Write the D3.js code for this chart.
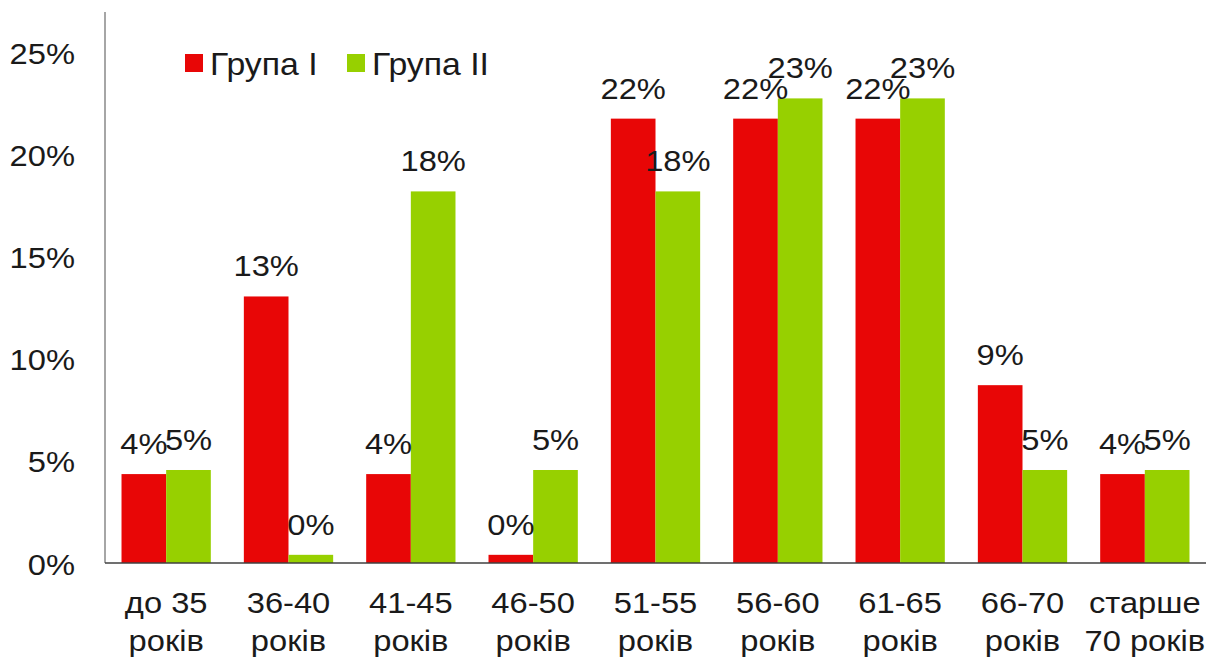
<!DOCTYPE html>
<html>
<head>
<meta charset="utf-8">
<script src="https://cdn.jsdelivr.net/npm/d3@7"></script>
<style>
  html, body { margin: 0; padding: 0; background: #fff; }
  svg { display: block; font-family: "Liberation Sans", Arial, sans-serif; }
</style>
</head>
<body>
<svg id="chart" width="1206" height="657"></svg>
<script>
// Age groups (two-line labels)
const categories = [
  ["до 35", "років"],
  ["36-40", "років"],
  ["41-45", "років"],
  ["46-50", "років"],
  ["51-55", "років"],
  ["56-60", "років"],
  ["61-65", "років"],
  ["66-70", "років"],
  ["старше", "70 років"]
];
const seriesNames = ["Група I", "Група II"];
const group1 = [0.0435, 0.1304, 0.0435, 0.004, 0.2174, 0.2174, 0.2174, 0.0870, 0.0435];
const group2 = [0.0455, 0.004, 0.1818, 0.0455, 0.1818, 0.2273, 0.2273, 0.0455, 0.0455];
const colors = ["#e80606", "#97d000"];
const yTicks = [0, 0.05, 0.10, 0.15, 0.20, 0.25];

const svg = d3.select("#chart");
const margin = { left: 105, right: 0, top: 12, bottom: 94 };
const W = 1206, H = 657;
const plotBottom = H - margin.bottom; // 563
const SX = 1.09;       // horizontal stretch of the text glyphs
const FS = 30;         // base font size
const ink = "#1a1a1a";

const x = d3.scaleBand()
  .domain(d3.range(categories.length))
  .range([margin.left, W - margin.right])
  .paddingInner(0.27)
  .paddingOuter(0.135);
const xs = d3.scaleBand().domain([0, 1]).range([0, x.bandwidth()]);
const y = d3.scaleLinear().domain([0, 0.25]).range([plotBottom, 52]);

const fmt = d3.format(".0%");

// Place text at (px, py) with a slight horizontal stretch
function place(sel, px, py) {
  sel.attr("transform", (d, i) => `translate(${px(d, i)},${py(d, i)}) scale(${SX},1)`);
}

// Bars
const series = [group1, group2];
series.forEach((vals, si) => {
  svg.append("g").selectAll("rect")
    .data(vals)
    .join("rect")
    .attr("x", (d, i) => x(i) + xs(si))
    .attr("y", d => y(d))
    .attr("width", xs.bandwidth())
    .attr("height", d => plotBottom - y(d))
    .attr("fill", colors[si]);
});

// Value labels
series.forEach((vals, si) => {
  const t = svg.append("g").selectAll("text")
    .data(vals)
    .join("text")
    .attr("text-anchor", "middle")
    .attr("font-size", FS)
    .attr("fill", ink)
    .text(d => fmt(d));
  place(t, (d, i) => x(i) + xs(si) + xs.bandwidth() / 2, d => y(d) - 20);
});

// Y axis
const yAxis = d3.axisLeft(y).tickValues(yTicks).tickFormat(fmt).tickSize(0);
const gy = svg.append("g").attr("transform", `translate(${margin.left},0)`).call(yAxis);
gy.select(".domain").remove();
gy.selectAll(".tick text")
  .attr("x", null).attr("dy", null)
  .attr("font-size", FS).attr("fill", ink)
  .attr("font-family", "Liberation Sans, Arial, sans-serif")
  .attr("transform", `translate(-30,11) scale(${SX},1)`);
svg.append("line")
  .attr("x1", margin.left).attr("x2", margin.left)
  .attr("y1", margin.top).attr("y2", plotBottom)
  .attr("stroke", "#a6a6a6").attr("stroke-width", 2);

// X axis
svg.append("line")
  .attr("x1", margin.left).attr("x2", W)
  .attr("y1", plotBottom).attr("y2", plotBottom)
  .attr("stroke", "#404040").attr("stroke-width", 1.5);

const xl = svg.append("g").selectAll("text")
  .data(categories)
  .join("text")
  .attr("text-anchor", "middle")
  .attr("font-size", FS)
  .attr("fill", ink);
place(xl, (d, i) => x(i) + x.bandwidth() / 2, () => 0);
xl.each(function(d) {
  const t = d3.select(this);
  d.forEach((line, li) => {
    t.append("tspan")
      .attr("x", 0)
      .attr("y", 613 + li * 38)
      .text(line);
  });
});

// Legend
const legend = svg.append("g");
const legendX = [185, 347];
seriesNames.forEach((name, si) => {
  const g = legend.append("g").attr("transform", `translate(${legendX[si]},54)`);
  g.append("rect").attr("width", 18).attr("height", 18).attr("fill", colors[si]);
  g.append("text")
    .attr("font-size", 31).attr("fill", ink)
    .attr("transform", `translate(25,21) scale(${SX},1)`)
    .text(name);
});
</script>
</body>
</html>
